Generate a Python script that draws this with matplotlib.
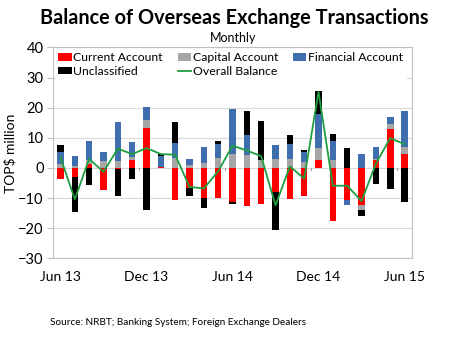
import numpy as np
import matplotlib.pyplot as plt

plt.rcParams['font.family'] = ['Lato', 'DejaVu Sans']

# monthly values, Jun 13 .. Jun 15 (TOP$ million)
months = ['Jun 13', 'Jul 13', 'Aug 13', 'Sep 13', 'Oct 13', 'Nov 13', 'Dec 13',
          'Jan 14', 'Feb 14', 'Mar 14', 'Apr 14', 'May 14', 'Jun 14',
          'Jul 14', 'Aug 14', 'Sep 14', 'Oct 14', 'Nov 14', 'Dec 14',
          'Jan 15', 'Feb 15', 'Mar 15', 'Apr 15', 'May 15', 'Jun 15']
current = [-3.8, -3.1, 1.4, -7.4, -0.3, 2.7, 13.2, 0.4, -10.8, -6.6, -9.9, -10.1, -11.3,
           -12.7, -12.1, -7.9, -10.2, -9.4, 2.7, -17.7, -10.7, -12.4, 2.5, 12.9, 4.7]
capital = [1.2, 0.5, 1.1, 2.4, 2.2, 1.1, 2.7, 0.0, 3.3, 0.9, 1.6, 3.3, 4.6,
           4.2, 2.5, 3.0, 3.0, 2.0, 3.8, 2.5, 0.0, -1.6, 0.6, 1.6, 2.4]
financial = [4.2, 3.5, 6.5, 3.0, 13.2, 4.7, 4.4, 3.5, 4.9, 2.1, 5.2, 4.6, 15.0,
             6.8, 0.0, 4.7, 4.9, 3.2, 11.5, 6.3, -1.7, 4.7, 4.0, 2.3, 11.9]
unclassified = [2.2, -11.4, -5.5, 0.0, -8.9, -3.6, -14.1, 0.8, 6.9, -2.7, -3.5, 1.2, -0.7,
                7.9, 13.2, -12.7, 2.9, 0.6, 7.7, 2.4, 6.6, -2.0, -5.2, -7.1, -11.2]
overall = [3.5, -10.4, 3.0, -1.3, 6.4, 4.6, 6.6, 4.6, 4.4, -6.3, -6.8, -1.1, 7.4,
           5.8, 3.9, -12.4, 0.5, -3.5, 25.3, -5.9, -5.9, -11.0, 1.4, 9.9, 7.9]
tick_pos = [0, 6, 12, 18, 24]

series = [('Current Account', current, '#FF0000'),
          ('Capital Account', capital, '#A6A6A6'),
          ('Financial Account', financial, '#3F6EAE'),
          ('Unclassified', unclassified, '#000000')]

fig = plt.figure(figsize=(4.66, 3.38), dpi=100)
ax = fig.add_axes([0.1144, 0.2358, 0.7691, 0.6237])

x = np.arange(len(months))
pos_bottom = np.zeros(len(x))
neg_bottom = np.zeros(len(x))
handles = {}
for name, vals, col in series:
    v = np.array(vals)
    bot = np.where(v >= 0, pos_bottom, neg_bottom)
    handles[name] = ax.bar(x, v, 0.46, bottom=bot, color=col, zorder=3, label=name)
    pos_bottom = pos_bottom + np.where(v > 0, v, 0)
    neg_bottom = neg_bottom + np.where(v < 0, v, 0)

ln, = ax.plot(x, overall, color='#1E9E3E', lw=1.3, zorder=4, label='Overall Balance')

# little marks on the zero line
for b in [-0.5, 5.5, 11.5, 17.5, 23.5]:
    ax.plot([b, b], [0, -0.7], color='#A6A6A6', lw=0.8, zorder=2)

ax.set_xlim(-0.5, 24.5)
ax.set_ylim(-30, 40)
ax.set_yticks(range(-30, 41, 10))
ax.yaxis.grid(True, color='#D9D9D9', lw=0.8, zorder=0)
ax.set_axisbelow(True)
ax.set_xticks(tick_pos)
ax.set_xticklabels([months[i] for i in tick_pos])
ax.tick_params(axis='x', length=0, pad=9, labelsize=10)
ax.tick_params(axis='y', length=4, color='#BFBFBF', labelsize=10.5, pad=3)
for s in ax.spines.values():
    s.set_color('#BFBFBF')
    s.set_linewidth(0.8)

ax.set_ylabel('TOP$ million', fontsize=10, labelpad=1)

h = [handles['Current Account'], handles['Unclassified'],
     handles['Capital Account'], ln, handles['Financial Account']]
leg = ax.legend(h, [hh.get_label() for hh in h], ncol=3, loc='upper left',
                bbox_to_anchor=(0.0, 1.0), frameon=True, fontsize=8.8,
                handlelength=1.1, handleheight=0.6, handletextpad=0.15,
                columnspacing=1.2, labelspacing=0.2, borderaxespad=0.2,
                borderpad=0.2, fancybox=False)
leg.get_frame().set_edgecolor('white')
leg.get_frame().set_facecolor('white')
leg.get_frame().set_alpha(1)

fig.text(0.502, 0.947, 'Balance of Overseas Exchange Transactions', ha='center',
         va='center', fontsize=14.3, fontweight='bold')
fig.text(0.5, 0.887, 'Monthly', ha='center', va='center', fontsize=9)
fig.text(0.107, 0.045, 'Source: NRBT; Banking System; Foreign Exchange Dealers',
         ha='left', va='center', fontsize=7.2)

fig.savefig('out.png', dpi=100)
